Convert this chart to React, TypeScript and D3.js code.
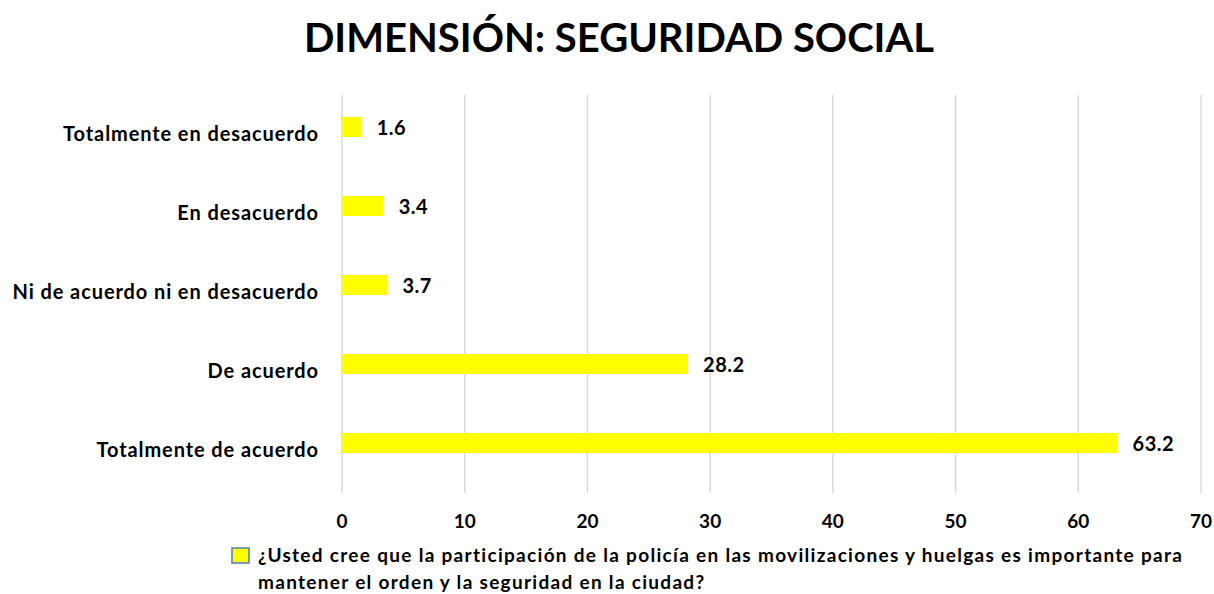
import React from "react";
import * as d3 from "d3";

const categories = [
  "Totalmente en desacuerdo",
  "En desacuerdo",
  "Ni de acuerdo ni en desacuerdo",
  "De acuerdo",
  "Totalmente de acuerdo",
];
const values = [1.6, 3.4, 3.7, 28.2, 63.2];
const xTicks = [0, 10, 20, 30, 40, 50, 60, 70];
const title = "DIMENSIÓN: SEGURIDAD SOCIAL";
const legendLines = [
  "¿Usted cree que la participación de la policía en las movilizaciones y huelgas es importante para",
  "mantener el orden y la seguridad en la ciudad?",
];

const W = 1214;
const H = 594;
const FONT = "Lato, 'Open Sans', sans-serif";

export default function App() {
  const x = d3.scaleLinear().domain([0, 70]).range([342, 1201]);
  const y = d3.scaleBand<string>().domain(categories).range([87.5, 482.5]).paddingInner(0);
  const barH = 20;
  const gridTop = 95;
  const gridBottom = 493;

  return (
    <svg
      width={W}
      height={H}
      style={{ position: "absolute", left: 0, top: 0, background: "#fff" }}
      fontFamily={FONT}
    >
      <rect width={W} height={H} fill="#fff" />
      <text x={619} y={52} textAnchor="middle" fontSize={40} fontWeight={700} fill="#000">
        {title}
      </text>
      {xTicks.map((t) => (
        <g key={t}>
          <line x1={x(t)} x2={x(t)} y1={gridTop} y2={gridBottom} stroke="#d9d9d9" strokeWidth={1.5} />
          <text x={x(t)} y={528} textAnchor="middle" fontSize={19} fontWeight={700} fill="#000">
            {t}
          </text>
        </g>
      ))}
      {categories.map((c, i) => {
        const cy = (y(c) ?? 0) + y.bandwidth() / 2;
        return (
          <g key={c}>
            <rect x={x(0)} y={cy - barH / 2} width={x(values[i]) - x(0)} height={barH} fill="#ffff00" />
            <text x={319} y={cy + 14} textAnchor="end" fontSize={20} fontWeight={700} letterSpacing={0.9} fill="#000">
              {c}
            </text>
            <text x={x(values[i]) + 15} y={cy + 7.5} fontSize={20} fontWeight={700} letterSpacing={0.5} fill="#000">
              {values[i].toFixed(1)}
            </text>
          </g>
        );
      })}
      <rect x={232} y={548} width={17} height={15} fill="#ffff00" stroke="#4f7fb0" strokeWidth={1.5} />
      {legendLines.map((l, i) => (
        <text key={i} x={258} y={562 + i * 27} fontSize={19} fontWeight={700} letterSpacing={1.3} fill="#000">
          {l}
        </text>
      ))}
    </svg>
  );
}
